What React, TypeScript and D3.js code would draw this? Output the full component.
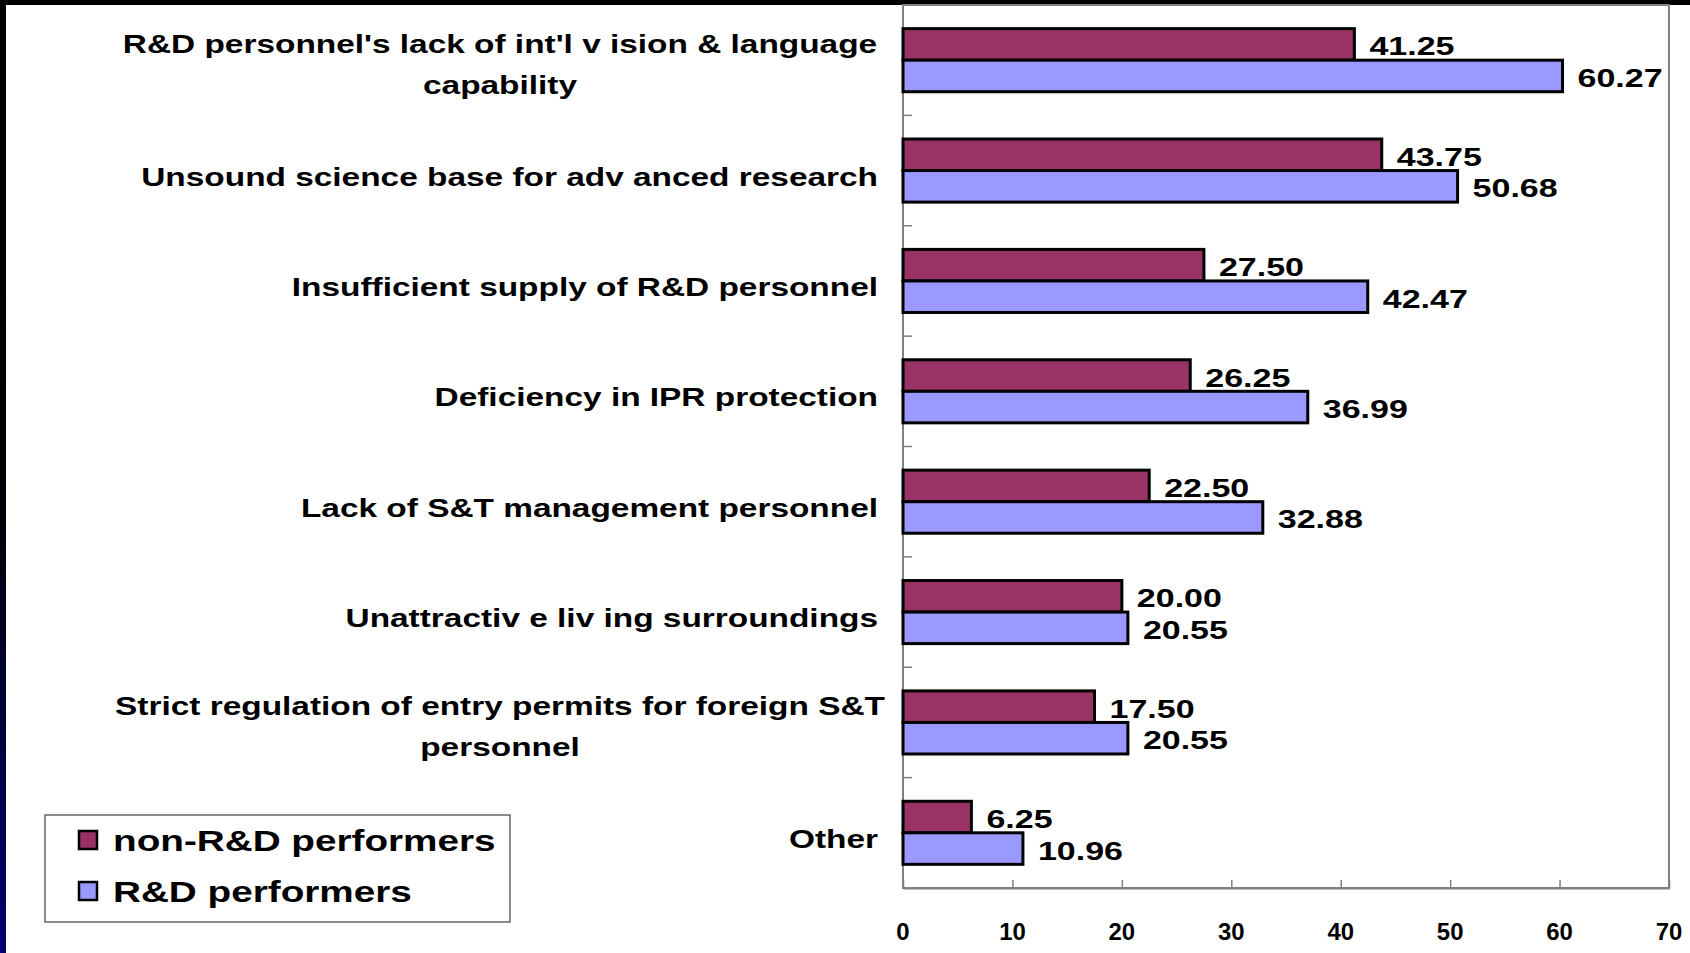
import React, { useEffect, useRef } from 'react';
import * as d3 from 'd3';

// category labels, split into the lines they wrap to
const categories = [
  ["R&D personnel's lack of int'l v ision & language", 'capability'],
  ['Unsound science base for adv anced research'],
  ['Insufficient supply of R&D personnel'],
  ['Deficiency in IPR protection'],
  ['Lack of S&T management personnel'],
  ['Unattractiv e liv ing surroundings'],
  ['Strict regulation of entry permits for foreign S&T', 'personnel'],
  ['Other'],
];
const nonRdValues = [41.25, 43.75, 27.5, 26.25, 22.5, 20.0, 17.5, 6.25];
const rdValues = [60.27, 50.68, 42.47, 36.99, 32.88, 20.55, 20.55, 10.96];
const seriesNames = ['non-R&D performers', 'R&D performers'];
const seriesColors = ['#993366', '#9999ff'];
const xTicks = [0, 10, 20, 30, 40, 50, 60, 70];

const FONT = '"Liberation Sans", Arial, Helvetica, sans-serif';

export default function App() {
  const ref = useRef<SVGSVGElement>(null);

  useEffect(() => {
    const width = 1690;
    const height = 953;
    const svg = d3.select(ref.current);
    svg.selectAll('*').remove();

    // plot area
    const plot = { left: 903, right: 1669, top: 5, bottom: 888 };
    const labelRight = 878;
    const wrapCenter = 500;

    // text in the original is stretched horizontally
    const stretched = (sel: any, x: number, y: number, sx: number) =>
      sel.attr('transform', `translate(${x},${y}) scale(${sx},1)`);

    svg.append('rect').attr('width', width).attr('height', height).attr('fill', '#ffffff');

    // dark slide frame on top and left
    const grad = svg
      .append('defs')
      .append('linearGradient')
      .attr('id', 'edge')
      .attr('x1', 0)
      .attr('y1', 0)
      .attr('x2', 0)
      .attr('y2', 1);
    grad.append('stop').attr('offset', 0).attr('stop-color', '#000000');
    grad.append('stop').attr('offset', 0.55).attr('stop-color', '#000008');
    grad.append('stop').attr('offset', 0.75).attr('stop-color', '#00003a');
    grad.append('stop').attr('offset', 1).attr('stop-color', '#000070');
    svg.append('rect').attr('x', 0).attr('y', 0).attr('width', 6).attr('height', height).attr('fill', 'url(#edge)');
    svg.append('rect').attr('x', 0).attr('y', 0).attr('width', width).attr('height', 5).attr('fill', '#000000');

    const x = d3.scaleLinear().domain([0, 70]).range([plot.left, plot.right]);
    const y = d3
      .scaleBand<number>()
      .domain(d3.range(categories.length))
      .range([plot.top, plot.bottom]);
    const ySub = d3
      .scaleBand<number>()
      .domain([0, 1])
      .range([0, y.bandwidth()])
      .paddingInner(0)
      .paddingOuter(0.75);

    // plot frame
    svg
      .append('rect')
      .attr('x', plot.left)
      .attr('y', plot.top)
      .attr('width', plot.right - plot.left)
      .attr('height', plot.bottom - plot.top)
      .attr('fill', '#ffffff')
      .attr('stroke', '#808080')
      .attr('stroke-width', 2);

    // category boundary ticks on the left axis
    svg
      .append('g')
      .selectAll('line')
      .data(d3.range(1, categories.length))
      .enter()
      .append('line')
      .attr('x1', plot.left)
      .attr('x2', plot.left + 9)
      .attr('y1', d => plot.top + d * y.step())
      .attr('y2', d => plot.top + d * y.step())
      .attr('stroke', '#808080')
      .attr('stroke-width', 1.5);

    // x axis
    const xAxis = d3.axisBottom(x).tickValues(xTicks).tickSizeInner(-8).tickSizeOuter(0);
    const xAxisGroup = svg.append('g').attr('transform', `translate(0, ${plot.bottom})`).call(xAxis);
    xAxisGroup.select('.domain').attr('stroke', '#808080').attr('stroke-width', 2);
    xAxisGroup.selectAll('.tick line').attr('stroke', '#808080').attr('stroke-width', 1.5);
    xAxisGroup.selectAll('.tick text').remove();
    svg
      .append('g')
      .selectAll('text')
      .data(xTicks)
      .enter()
      .append('text')
      .call(s => s.each(function (d) { stretched(d3.select(this), x(d), plot.bottom + 52, 1.04); }))
      .attr('text-anchor', 'middle')
      .attr('font-family', FONT)
      .attr('font-weight', 'bold')
      .attr('font-size', 23)
      .attr('fill', '#000000')
      .text(d => d);

    // bars
    const series = [nonRdValues, rdValues];
    series.forEach((values, si) => {
      const g = svg.append('g');
      g.selectAll('rect')
        .data(values)
        .enter()
        .append('rect')
        .attr('x', x(0))
        .attr('y', (_, i) => (y(i) as number) + (ySub(si) as number))
        .attr('width', d => x(d) - x(0))
        .attr('height', ySub.bandwidth())
        .attr('fill', seriesColors[si])
        .attr('stroke', '#000000')
        .attr('stroke-width', 3);

      g.selectAll('text')
        .data(values)
        .enter()
        .append('text')
        .each(function (d, i) {
          const cy = (y(i) as number) + (ySub(si) as number) + ySub.bandwidth() / 2;
          stretched(d3.select(this), x(d) + 15, cy + 11, 1.36);
        })
        .attr('font-family', FONT)
        .attr('font-weight', 'bold')
        .attr('font-size', 25)
        .attr('fill', '#000000')
        .text(d => d.toFixed(2));
    });

    // category labels
    const labels = svg.append('g');
    categories.forEach((lines, i) => {
      const cy = (y(i) as number) + y.bandwidth() / 2;
      if (lines.length === 1) {
        const t = labels
          .append('text')
          .attr('text-anchor', 'end')
          .attr('font-family', FONT)
          .attr('font-weight', 'bold')
          .attr('font-size', 25.5)
          .attr('fill', '#000000')
          .text(lines[0]);
        stretched(t, labelRight, cy + 15, 1.31);
      } else {
        lines.forEach((line, li) => {
          const t = labels
            .append('text')
            .attr('text-anchor', 'middle')
            .attr('font-family', FONT)
            .attr('font-weight', 'bold')
            .attr('font-size', 25.5)
            .attr('fill', '#000000')
            .text(line);
          stretched(t, wrapCenter, cy - 7 + li * 41, 1.31);
        });
      }
    });

    // legend
    const legend = svg.append('g');
    legend
      .append('rect')
      .attr('x', 45)
      .attr('y', 815)
      .attr('width', 465)
      .attr('height', 107)
      .attr('fill', '#ffffff')
      .attr('stroke', '#404040')
      .attr('stroke-width', 1.2);
    seriesNames.forEach((name, i) => {
      const cy = 840 + i * 51;
      legend
        .append('rect')
        .attr('x', 79)
        .attr('y', cy - 9)
        .attr('width', 18)
        .attr('height', 18)
        .attr('fill', seriesColors[i])
        .attr('stroke', '#000000')
        .attr('stroke-width', 2.5);
      const t = legend
        .append('text')
        .attr('font-family', FONT)
        .attr('font-weight', 'bold')
        .attr('font-size', 30)
        .attr('fill', '#000000')
        .text(name);
      stretched(t, 113, cy + 11, 1.29);
    });
  }, []);

  return (
    <svg
      ref={ref}
      width={1690}
      height={953}
      style={{ position: 'absolute', left: 0, top: 0, display: 'block' }}
    />
  );
}
